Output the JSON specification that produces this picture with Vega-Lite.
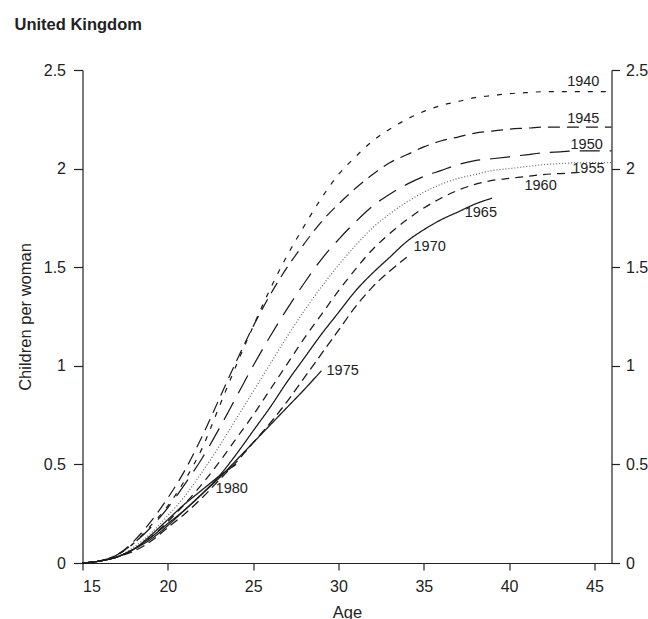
{
  "$schema": "https://vega.github.io/schema/vega-lite/v6.json",
  "width": 529,
  "height": 493,
  "autosize": {"type": "none"},
  "padding": {"left": 82.5, "top": 70, "right": 36.5, "bottom": 56},
  "background": "white",
  "title": {"text": "United Kingdom", "anchor": "start", "frame": "group", "dx": -68, "offset": 29, "font": "Liberation Sans", "fontSize": 16.5, "fontWeight": "bold", "color": "#222"},
  "config": {
    "view": {"stroke": null},
    "axis": {"labelFont": "Liberation Sans", "labelFontSize": 16, "labelColor": "#222", "titleFont": "Liberation Sans", "titleFontSize": 16.5, "titleFontWeight": "normal", "titleColor": "#222", "domainColor": "#222", "tickColor": "#222", "grid": false, "domainWidth": 1.2, "tickWidth": 1.2}
  },
  "datasets": {
    "curves": [
      {"c":"1940","a":15,"v":0},{"c":"1940","a":16,"v":0.01},{"c":"1940","a":17,"v":0.04},{"c":"1940","a":18,"v":0.10},{"c":"1940","a":19,"v":0.19},{"c":"1940","a":20,"v":0.29},{"c":"1940","a":21,"v":0.42},{"c":"1940","a":22,"v":0.58},{"c":"1940","a":23,"v":0.79},{"c":"1940","a":24,"v":1.00},{"c":"1940","a":25,"v":1.20},{"c":"1940","a":26,"v":1.39},{"c":"1940","a":27,"v":1.56},{"c":"1940","a":28,"v":1.71},{"c":"1940","a":29,"v":1.85},{"c":"1940","a":30,"v":1.97},{"c":"1940","a":31,"v":2.06},{"c":"1940","a":32,"v":2.14},{"c":"1940","a":33,"v":2.20},{"c":"1940","a":34,"v":2.25},{"c":"1940","a":35,"v":2.29},{"c":"1940","a":36,"v":2.32},{"c":"1940","a":37,"v":2.34},{"c":"1940","a":38,"v":2.36},{"c":"1940","a":39,"v":2.37},{"c":"1940","a":40,"v":2.38},{"c":"1940","a":41,"v":2.385},{"c":"1940","a":42,"v":2.39},{"c":"1940","a":43,"v":2.39},{"c":"1940","a":44,"v":2.39},{"c":"1940","a":45,"v":2.39},{"c":"1940","a":46,"v":2.39},
      {"c":"1945","a":15,"v":0},{"c":"1945","a":16,"v":0.01},{"c":"1945","a":17,"v":0.04},{"c":"1945","a":18,"v":0.11},{"c":"1945","a":19,"v":0.21},{"c":"1945","a":20,"v":0.33},{"c":"1945","a":21,"v":0.47},{"c":"1945","a":22,"v":0.64},{"c":"1945","a":23,"v":0.83},{"c":"1945","a":24,"v":1.02},{"c":"1945","a":25,"v":1.20},{"c":"1945","a":26,"v":1.36},{"c":"1945","a":27,"v":1.50},{"c":"1945","a":28,"v":1.62},{"c":"1945","a":29,"v":1.73},{"c":"1945","a":30,"v":1.82},{"c":"1945","a":31,"v":1.90},{"c":"1945","a":32,"v":1.97},{"c":"1945","a":33,"v":2.03},{"c":"1945","a":34,"v":2.07},{"c":"1945","a":35,"v":2.11},{"c":"1945","a":36,"v":2.14},{"c":"1945","a":37,"v":2.16},{"c":"1945","a":38,"v":2.18},{"c":"1945","a":39,"v":2.19},{"c":"1945","a":40,"v":2.20},{"c":"1945","a":41,"v":2.205},{"c":"1945","a":42,"v":2.21},{"c":"1945","a":43,"v":2.21},{"c":"1945","a":44,"v":2.21},{"c":"1945","a":45,"v":2.21},{"c":"1945","a":46,"v":2.21},
      {"c":"1950","a":15,"v":0},{"c":"1950","a":16,"v":0.01},{"c":"1950","a":17,"v":0.04},{"c":"1950","a":18,"v":0.10},{"c":"1950","a":19,"v":0.18},{"c":"1950","a":20,"v":0.28},{"c":"1950","a":21,"v":0.40},{"c":"1950","a":22,"v":0.53},{"c":"1950","a":23,"v":0.68},{"c":"1950","a":24,"v":0.84},{"c":"1950","a":25,"v":1.00},{"c":"1950","a":26,"v":1.15},{"c":"1950","a":27,"v":1.29},{"c":"1950","a":28,"v":1.42},{"c":"1950","a":29,"v":1.54},{"c":"1950","a":30,"v":1.64},{"c":"1950","a":31,"v":1.73},{"c":"1950","a":32,"v":1.81},{"c":"1950","a":33,"v":1.87},{"c":"1950","a":34,"v":1.92},{"c":"1950","a":35,"v":1.96},{"c":"1950","a":36,"v":1.99},{"c":"1950","a":37,"v":2.02},{"c":"1950","a":38,"v":2.04},{"c":"1950","a":39,"v":2.05},{"c":"1950","a":40,"v":2.06},{"c":"1950","a":41,"v":2.07},{"c":"1950","a":42,"v":2.08},{"c":"1950","a":43,"v":2.085},{"c":"1950","a":44,"v":2.09},{"c":"1950","a":45,"v":2.09},{"c":"1950","a":46,"v":2.09},
      {"c":"1955","a":15,"v":0},{"c":"1955","a":16,"v":0.01},{"c":"1955","a":17,"v":0.03},{"c":"1955","a":18,"v":0.08},{"c":"1955","a":19,"v":0.15},{"c":"1955","a":20,"v":0.24},{"c":"1955","a":21,"v":0.34},{"c":"1955","a":22,"v":0.46},{"c":"1955","a":23,"v":0.59},{"c":"1955","a":24,"v":0.73},{"c":"1955","a":25,"v":0.87},{"c":"1955","a":26,"v":1.01},{"c":"1955","a":27,"v":1.15},{"c":"1955","a":28,"v":1.28},{"c":"1955","a":29,"v":1.40},{"c":"1955","a":30,"v":1.51},{"c":"1955","a":31,"v":1.61},{"c":"1955","a":32,"v":1.70},{"c":"1955","a":33,"v":1.77},{"c":"1955","a":34,"v":1.83},{"c":"1955","a":35,"v":1.88},{"c":"1955","a":36,"v":1.92},{"c":"1955","a":37,"v":1.95},{"c":"1955","a":38,"v":1.97},{"c":"1955","a":39,"v":1.99},{"c":"1955","a":40,"v":2.00},{"c":"1955","a":41,"v":2.01},{"c":"1955","a":42,"v":2.02},{"c":"1955","a":43,"v":2.025},{"c":"1955","a":44,"v":2.03},{"c":"1955","a":45,"v":2.03},{"c":"1955","a":46,"v":2.03},
      {"c":"1960","a":15,"v":0},{"c":"1960","a":16,"v":0.01},{"c":"1960","a":17,"v":0.03},{"c":"1960","a":18,"v":0.07},{"c":"1960","a":19,"v":0.13},{"c":"1960","a":20,"v":0.21},{"c":"1960","a":21,"v":0.30},{"c":"1960","a":22,"v":0.40},{"c":"1960","a":23,"v":0.51},{"c":"1960","a":24,"v":0.63},{"c":"1960","a":25,"v":0.75},{"c":"1960","a":26,"v":0.88},{"c":"1960","a":27,"v":1.01},{"c":"1960","a":28,"v":1.14},{"c":"1960","a":29,"v":1.26},{"c":"1960","a":30,"v":1.38},{"c":"1960","a":31,"v":1.49},{"c":"1960","a":32,"v":1.59},{"c":"1960","a":33,"v":1.67},{"c":"1960","a":34,"v":1.74},{"c":"1960","a":35,"v":1.80},{"c":"1960","a":36,"v":1.85},{"c":"1960","a":37,"v":1.89},{"c":"1960","a":38,"v":1.92},{"c":"1960","a":39,"v":1.94},{"c":"1960","a":40,"v":1.95},{"c":"1960","a":41,"v":1.96},{"c":"1960","a":42,"v":1.97},{"c":"1960","a":43,"v":1.975},{"c":"1960","a":44,"v":1.98},
      {"c":"1965","a":15,"v":0},{"c":"1965","a":16,"v":0.01},{"c":"1965","a":17,"v":0.03},{"c":"1965","a":18,"v":0.07},{"c":"1965","a":19,"v":0.12},{"c":"1965","a":20,"v":0.19},{"c":"1965","a":21,"v":0.27},{"c":"1965","a":22,"v":0.35},{"c":"1965","a":23,"v":0.44},{"c":"1965","a":24,"v":0.55},{"c":"1965","a":25,"v":0.67},{"c":"1965","a":26,"v":0.79},{"c":"1965","a":27,"v":0.92},{"c":"1965","a":28,"v":1.04},{"c":"1965","a":29,"v":1.16},{"c":"1965","a":30,"v":1.27},{"c":"1965","a":31,"v":1.38},{"c":"1965","a":32,"v":1.47},{"c":"1965","a":33,"v":1.55},{"c":"1965","a":34,"v":1.63},{"c":"1965","a":35,"v":1.69},{"c":"1965","a":36,"v":1.74},{"c":"1965","a":37,"v":1.78},{"c":"1965","a":38,"v":1.82},{"c":"1965","a":39,"v":1.85},
      {"c":"1970","a":15,"v":0},{"c":"1970","a":16,"v":0.01},{"c":"1970","a":17,"v":0.03},{"c":"1970","a":18,"v":0.06},{"c":"1970","a":19,"v":0.11},{"c":"1970","a":20,"v":0.18},{"c":"1970","a":21,"v":0.25},{"c":"1970","a":22,"v":0.33},{"c":"1970","a":23,"v":0.42},{"c":"1970","a":24,"v":0.51},{"c":"1970","a":25,"v":0.61},{"c":"1970","a":26,"v":0.71},{"c":"1970","a":27,"v":0.82},{"c":"1970","a":28,"v":0.94},{"c":"1970","a":29,"v":1.06},{"c":"1970","a":30,"v":1.18},{"c":"1970","a":31,"v":1.30},{"c":"1970","a":32,"v":1.40},{"c":"1970","a":33,"v":1.48},{"c":"1970","a":34,"v":1.55},
      {"c":"1975","a":15,"v":0},{"c":"1975","a":16,"v":0.01},{"c":"1975","a":17,"v":0.03},{"c":"1975","a":18,"v":0.07},{"c":"1975","a":19,"v":0.13},{"c":"1975","a":20,"v":0.20},{"c":"1975","a":21,"v":0.27},{"c":"1975","a":22,"v":0.35},{"c":"1975","a":23,"v":0.43},{"c":"1975","a":24,"v":0.52},{"c":"1975","a":25,"v":0.61},{"c":"1975","a":26,"v":0.70},{"c":"1975","a":27,"v":0.79},{"c":"1975","a":28,"v":0.88},{"c":"1975","a":29,"v":0.975},
      {"c":"1980","a":15,"v":0},{"c":"1980","a":16,"v":0.01},{"c":"1980","a":17,"v":0.03},{"c":"1980","a":18,"v":0.07},{"c":"1980","a":19,"v":0.14},{"c":"1980","a":20,"v":0.22},{"c":"1980","a":21,"v":0.30},{"c":"1980","a":22,"v":0.37},{"c":"1980","a":23,"v":0.44},{"c":"1980","a":24,"v":0.50}
    ],
    "labels": [
      {"t":"1940","a":43.4,"v":2.44},
      {"t":"1945","a":43.4,"v":2.25},
      {"t":"1950","a":43.6,"v":2.12},
      {"t":"1955","a":43.7,"v":2.00},
      {"t":"1960","a":40.9,"v":1.91},
      {"t":"1965","a":37.4,"v":1.775},
      {"t":"1970","a":34.4,"v":1.60},
      {"t":"1975","a":29.3,"v":0.975},
      {"t":"1980","a":22.8,"v":0.375}
    ]
  },
  "layer": [
    {
      "data": {"name": "curves"},
      "mark": {"type": "line", "interpolate": "monotone"},
      "encoding": {
        "x": {"field": "a", "type": "quantitative", "scale": {"domain": [15, 46], "nice": false, "zero": false},
              "axis": {"values": [15, 20, 25, 30, 35, 40, 45], "title": "Age", "tickSize": 7, "labelPadding": 8, "titlePadding": 10}},
        "y": {"field": "v", "type": "quantitative", "scale": {"domain": [0, 2.5], "nice": false},
              "axis": {"orient": "left", "values": [0, 0.5, 1, 1.5, 2, 2.5], "format": "~g", "title": "Children per woman", "tickSize": 9, "labelPadding": 8, "titlePadding": 10}},
        "detail": {"field": "c"},
        "strokeDash": {"field": "c", "type": "nominal", "legend": null,
          "scale": {"domain": ["1940","1945","1950","1955","1960","1965","1970","1975","1980"],
                    "range": [[5,8],[12,7],[20,10],[1,2],[8,6],[1,0],[9,5],[1,0],[1,0]]}},
        "strokeWidth": {"field": "c", "type": "nominal", "legend": null,
          "scale": {"domain": ["1940","1945","1950","1955","1960","1965","1970","1975","1980"],
                    "range": [1.2,1.3,1.3,1,1.3,1.2,1.2,1.2,2.8]}},
        "color": {"field": "c", "type": "nominal", "legend": null,
          "scale": {"domain": ["1940","1945","1950","1955","1960","1965","1970","1975","1980"],
                    "range": ["#1a1a1a","#1a1a1a","#1a1a1a","#666666","#1a1a1a","#1a1a1a","#1a1a1a","#1a1a1a","#1a1a1a"]}}
      }
    },
    {
      "data": {"name": "labels"},
      "mark": {"type": "text", "align": "left", "baseline": "middle", "font": "Liberation Sans", "fontSize": 14.5, "color": "#222"},
      "encoding": {
        "x": {"field": "a", "type": "quantitative"},
        "y": {"field": "v", "type": "quantitative",
              "axis": {"orient": "right", "values": [0, 0.5, 1, 1.5, 2, 2.5], "format": "~g", "title": null, "tickSize": 8, "labelPadding": 6}},
        "text": {"field": "t"}
      }
    }
  ],
  "resolve": {"axis": {"y": "independent"}}
}
